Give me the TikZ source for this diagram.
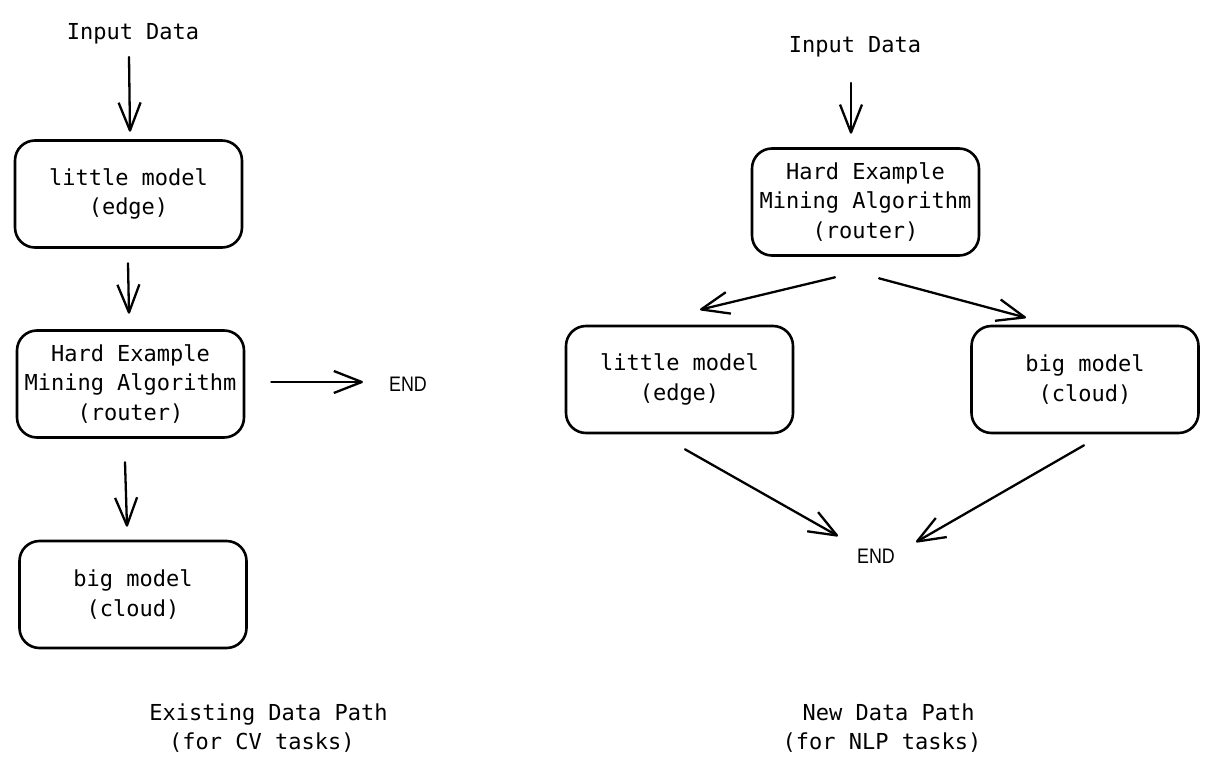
\documentclass[tikz,border=0pt]{standalone}
\usepackage{fontspec}
\newfontfamily\handfont{DejaVu Sans Mono}
\newfontfamily\endfont[FakeStretch=0.85]{Liberation Sans}
\usetikzlibrary{arrows.meta}
\begin{document}
\begin{tikzpicture}[x=1pt,y=-1pt,
  txt/.style={inner sep=0pt,font=\handfont\fontsize{22}{29.5}\selectfont,align=center},
  box/.style={txt,draw,line width=2.6pt,rounded corners=20pt,minimum width=227pt,minimum height=107pt},
  endlbl/.style={inner sep=0pt,font=\endfont\fontsize{21}{24}\selectfont},
  arr/.style={line width=2.3pt,line cap=round,-{Straight Barb[length=28pt,width=22pt,line join=round]}}]
\useasboundingbox (0,0) rectangle (1215,765);
% left column
\node[txt,anchor=base] (in1) at (133,40) {Input Data};
\node[box] (lm1) at (128.5,194) {little model\\(edge)};
\node[box] (hem1) at (130.5,384) {Hard Example\\Mining Algorithm\\(router)};
\node[box] (bm1) at (133,594.5) {big model\\(cloud)};
\node[endlbl] (end1) at (408,384) {END};
\node[txt] (cap1) at (268.5,728) {Existing Data Path\\(for CV tasks)\hphantom{x}};
\draw[arr] ([xshift=-4pt,yshift=-17pt]in1.base) -- ([xshift=1.5pt,yshift=7.5pt]lm1.north);
\draw[arr] ([xshift=-0.5pt,yshift=-14.5pt]lm1.south) -- ([xshift=-1.5pt,yshift=15.5pt]hem1.north);
\draw[arr] ([xshift=26pt,yshift=2pt]hem1.east) -- ([xshift=-26pt,yshift=2pt]end1.west);
\draw[arr] ([xshift=-5.5pt,yshift=-23.5pt]hem1.south) -- ([xshift=-6pt,yshift=13pt]bm1.north);
% right column
\node[txt,anchor=base] (in2) at (855,53) {Input Data};
\node[box] (hem2) at (865.5,202) {Hard Example\\Mining Algorithm\\(router)};
\node[box] (lm2) at (679.5,379.5) {little model\\(edge)};
\node[box] (bm2) at (1085,379.5) {big model\\(cloud)};
\node[endlbl] (end2) at (876,556) {END};
\node[txt] (cap2) at (882,728) {\hphantom{x}New Data Path\\(for NLP tasks)};
\draw[arr] ([xshift=-4pt,yshift=-30pt]in2.base) -- ([xshift=-14.5pt,yshift=13.5pt]hem2.north);
\draw[arr] ([xshift=-30.5pt,yshift=-20.5pt]hem2.south) -- ([xshift=20.5pt,yshift=15pt]lm2.north);
\draw[arr] ([xshift=13.5pt,yshift=-21.5pt]hem2.south) -- ([xshift=-59pt,yshift=7pt]bm2.north);
\draw[arr] ([xshift=5.5pt,yshift=-15pt]lm2.south) -- ([xshift=-38pt,yshift=12.5pt]end2.north);
\draw[arr] ([xshift=-1pt,yshift=-11pt]bm2.south) -- ([xshift=40pt,yshift=6.5pt]end2.north);
\end{tikzpicture}
\end{document}
